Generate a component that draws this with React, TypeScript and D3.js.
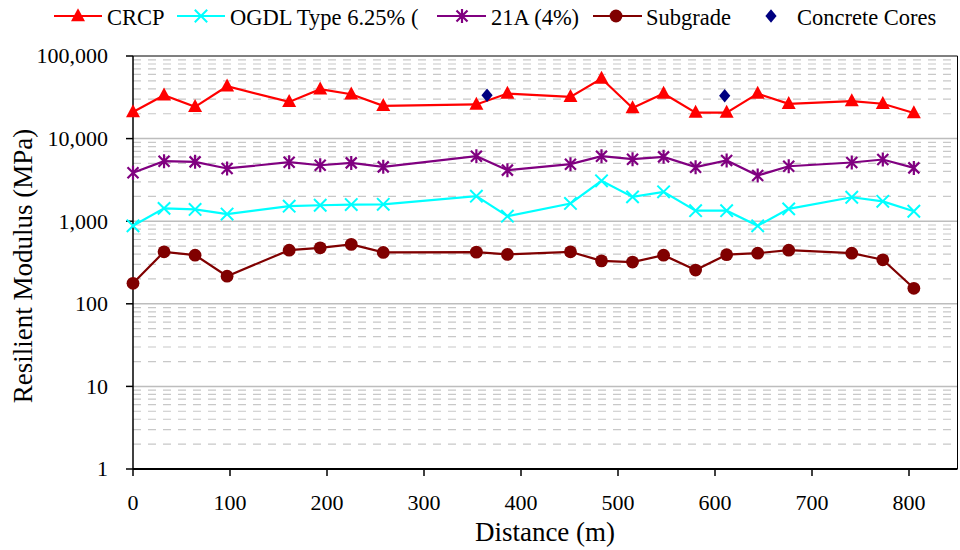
import React from "react";
import * as d3 from "d3";

const distances = [0, 32, 64, 97, 161, 193, 225, 258, 354, 386, 451, 483, 515, 547, 580, 612, 644, 676, 741, 773, 805];
const crcp = [21000, 33500, 24200, 43000, 27800, 39600, 34400, 24900, 25900, 35100, 32000, 53300, 23500, 35100, 20600, 20600, 35000, 26400, 28500, 26400, 20400];
const ogdl = [880, 1430, 1390, 1220, 1520, 1560, 1590, 1600, 2010, 1150, 1640, 3080, 1970, 2270, 1340, 1340, 880, 1410, 1950, 1740, 1320];
const a21 = [3850, 5330, 5230, 4350, 5180, 4760, 5080, 4550, 6120, 4150, 4900, 6120, 5630, 6010, 4510, 5430, 3570, 4630, 5140, 5580, 4420];
const subgrade = [177, 426, 388, 216, 446, 476, 524, 419, 422, 396, 426, 331, 320, 388, 256, 393, 410, 446, 410, 341, 154];
const coreDistances = [365, 610];
const coreValues = [33500, 33000];

const seriesNames = ["CRCP", "OGDL Type 6.25% (", "21A (4%)", "Subgrade", "Concrete Cores"];
const xTicks = [0, 100, 200, 300, 400, 500, 600, 700, 800];
const yTicks = [1, 10, 100, 1000, 10000, 100000];

const FONT = "'Liberation Serif', 'Times New Roman', serif";

const W = 960, H = 550;
const L = 133, R = 957.5, T = 56, B = 469;

type MarkerKind = "triangle" | "x" | "star" | "circle" | "diamond";

function Marker({ kind, x, y, color }: { kind: MarkerKind; x: number; y: number; color: string }) {
  const t = `translate(${x},${y})`;
  if (kind === "triangle") return <path transform={t} d="M0,-7.8L7,5.2L-7,5.2Z" fill={color} />;
  if (kind === "x")
    return <path transform={t} d="M-6.2,-6.2L6.2,6.2M-6.2,6.2L6.2,-6.2" stroke={color} strokeWidth={2} fill="none" />;
  if (kind === "star")
    return <path transform={t} d="M-5.5,-5.5L5.5,5.5M-5.5,5.5L5.5,-5.5M0,-7L0,7" stroke={color} strokeWidth={2.2} fill="none" />;
  if (kind === "circle") return <circle cx={x} cy={y} r={6.4} fill={color} />;
  return <path transform={t} d="M0,-6.8L5.6,0L0,6.8L-5.6,0Z" fill={color} />;
}

export default function App() {
  const x = d3.scaleLinear().domain([0, 850]).range([L, R]);
  const y = d3.scaleLog().domain([1, 100000]).range([B, T]);

  const series = [
    { name: seriesNames[0], values: crcp, color: "#FF0000", kind: "triangle" as MarkerKind },
    { name: seriesNames[1], values: ogdl, color: "#00FFFF", kind: "x" as MarkerKind },
    { name: seriesNames[2], values: a21, color: "#800080", kind: "star" as MarkerKind },
    { name: seriesNames[3], values: subgrade, color: "#800000", kind: "circle" as MarkerKind },
  ];

  const line = d3
    .line<[number, number]>()
    .x((d) => x(d[0]))
    .y((d) => y(d[1]));

  const minor: number[] = [];
  for (let dec = 1; dec < 100000; dec *= 10) {
    for (let k = 2; k <= 9; k++) minor.push(dec * k);
  }

  const legendItems = [
    { lx1: 54, lx2: 102, mx: 78, tx: 107, s: 0 },
    { lx1: 177, lx2: 225, mx: 201, tx: 230, s: 1 },
    { lx1: 437, lx2: 486, mx: 462, tx: 491, s: 2 },
    { lx1: 593, lx2: 642, mx: 616, tx: 646, s: 3 },
  ];

  return (
    <svg width={W} height={H} style={{ position: "absolute", left: 0, top: 0, background: "#fff" }}>
      <rect x={0} y={0} width={W} height={H} fill="#fff" />
      {minor.map((v) => (
        <line key={"m" + v} x1={L} x2={R} y1={y(v)} y2={y(v)} stroke="#c8c8c8" strokeWidth={1.2} strokeDasharray="8,7" />
      ))}
      {yTicks.slice(1, -1).map((v) => (
        <line key={"g" + v} x1={L} x2={R} y1={y(v)} y2={y(v)} stroke="#bdbdbd" strokeWidth={1.5} />
      ))}
      <line x1={L} x2={R} y1={T} y2={T} stroke="#000" strokeWidth={1} />
      <line x1={R} x2={R} y1={T} y2={B} stroke="#000" strokeWidth={1} />
      <line x1={L} x2={L} y1={T} y2={B} stroke="#000" strokeWidth={1.5} />
      <line x1={L} x2={R} y1={B} y2={B} stroke="#000" strokeWidth={2} />
      {yTicks.map((v) => (
        <g key={"yt" + v}>
          <line x1={L - 7} x2={L} y1={y(v)} y2={y(v)} stroke="#000" strokeWidth={1.5} />
          <text x={108} y={y(v)} dy="0.34em" textAnchor="end" style={{ fontFamily: FONT }} fontSize={22} fill="#000">
            {d3.format(",")(v)}
          </text>
        </g>
      ))}
      {xTicks.map((v) => (
        <g key={"xt" + v}>
          <line x1={x(v)} x2={x(v)} y1={B} y2={B + 7} stroke="#000" strokeWidth={1.5} />
          <text x={x(v)} y={510} textAnchor="middle" style={{ fontFamily: FONT }} fontSize={22} fill="#000">
            {v}
          </text>
        </g>
      ))}
      <text x={545} y={541} textAnchor="middle" style={{ fontFamily: FONT }} fontSize={27} fill="#000">
        Distance (m)
      </text>
      <text transform="translate(32,266) rotate(-90)" textAnchor="middle" style={{ fontFamily: FONT }} fontSize={27} fill="#000">
        Resilient Modulus (MPa)
      </text>
      {series.map((s) => {
        const pts = distances.map((d, i) => [d, s.values[i]] as [number, number]);
        return (
          <g key={s.name}>
            <path d={line(pts) || ""} fill="none" stroke={s.color} strokeWidth={2.2} />
            {pts.map((p, i) => (
              <Marker key={i} kind={s.kind} x={x(p[0])} y={y(p[1])} color={s.color} />
            ))}
          </g>
        );
      })}
      {coreDistances.map((d, i) => (
        <Marker key={"c" + i} kind="diamond" x={x(d)} y={y(coreValues[i])} color="#000080" />
      ))}
      {legendItems.map((it) => {
        const s = series[it.s];
        return (
          <g key={"lg" + it.s}>
            <line x1={it.lx1} x2={it.lx2} y1={16} y2={16} stroke={s.color} strokeWidth={2} />
            <Marker kind={s.kind} x={it.mx} y={16} color={s.color} />
            <text x={it.tx} y={25} style={{ fontFamily: FONT }} fontSize={22.5} fill="#000">
              {s.name}
            </text>
          </g>
        );
      })}
      <Marker kind="diamond" x={771} y={16} color="#000080" />
      <text x={797} y={25} style={{ fontFamily: FONT }} fontSize={22.5} fill="#000">
        {seriesNames[4]}
      </text>
    </svg>
  );
}
